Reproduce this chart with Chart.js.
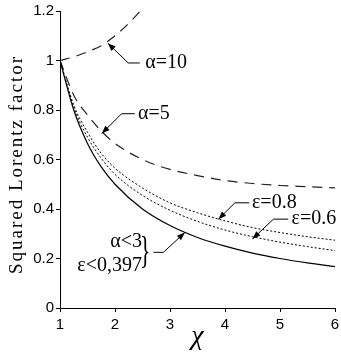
<!DOCTYPE html>
<html><head><meta charset="utf-8">
<script src="https://cdn.jsdelivr.net/npm/chart.js@4"></script>
<style>html,body{margin:0;padding:0;background:#fff}</style>
</head><body><canvas id="c" width="341" height="353"></canvas>
<script>
const xValues = [1,1.25,1.5,1.75,2,2.5,3,3.5,4,4.5,5,5.5,6];
const baseCurve = [1,0.8,0.665,0.57,0.5,0.4,0.333,0.285,0.25,0.222,0.2,0.182,0.167];
const eps06 = [1,0.81,0.69,0.605,0.54,0.455,0.395,0.35,0.315,0.288,0.266,0.248,0.232];
const eps08 = [1,0.82,0.71,0.625,0.565,0.485,0.425,0.385,0.352,0.325,0.305,0.288,0.274];
const alpha5 = [1,0.86,0.78,0.715,0.665,0.6,0.56,0.535,0.515,0.503,0.495,0.49,0.485];
const alpha10X = [1,1.25,1.5,1.75,2,2.25,2.5];
const alpha10 = [1,1.015,1.035,1.06,1.1,1.15,1.21];
const xTickLabels = ['1','2','3','4','5','6'];
const yTickLabels = ['0','0.2','0.4','0.6','0.8','1','1.2'];
const yTitle = 'Squared Lorentz factor';
const xTitle = 'χ';

const pts = (xs, ys) => xs.map((x, i) => ({x, y: ys[i]}));

const callouts = [
  {text:'α=10', tip:[1.87,1.07], elbow:[2.24,0.99], end:[2.45,0.99], textAt:[2.55,0.99]},
  {text:'α=5', tip:[1.76,0.705], elbow:[2.12,0.785], end:[2.36,0.785], textAt:[2.42,0.785]},
  {text:'ε=0.8', tip:[3.88,0.359], elbow:[4.18,0.425], end:[4.44,0.425], textAt:[4.49,0.425]},
  {text:'ε=0.6', tip:[4.50,0.279], elbow:[4.88,0.359], end:[5.15,0.359], textAt:[5.21,0.359]},
  {text:null, tip:[3.27,0.305], elbow:[2.88,0.225], end:[2.70,0.225]}
];
const groupLines = [
  {text:'α<3', at:[2.49,0.269]},
  {text:'ε<0,397', at:[2.49,0.169]}
];
const braceAt = [2.55,0.222];

const annot = {
  id:'annot',
  afterDatasetsDraw(chart){
    const ctx = chart.ctx, xs = chart.scales.x, ys = chart.scales.y;
    const P = p => [xs.getPixelForValue(p[0]), ys.getPixelForValue(p[1])];
    ctx.save();
    ctx.strokeStyle = '#000'; ctx.fillStyle = '#000'; ctx.lineWidth = 1;
    ctx.font = '20px "Liberation Serif"';
    ctx.textBaseline = 'middle';
    callouts.forEach(c => {
      const t = P(c.tip), e = P(c.elbow), n = P(c.end);
      ctx.beginPath(); ctx.moveTo(n[0], n[1]); ctx.lineTo(e[0], e[1]); ctx.lineTo(t[0], t[1]); ctx.stroke();
      const ang = Math.atan2(t[1]-e[1], t[0]-e[0]);
      const L = 8, W = 3;
      ctx.beginPath();
      ctx.moveTo(t[0], t[1]);
      ctx.lineTo(t[0]-L*Math.cos(ang)+W*Math.sin(ang), t[1]-L*Math.sin(ang)-W*Math.cos(ang));
      ctx.lineTo(t[0]-L*Math.cos(ang)-W*Math.sin(ang), t[1]-L*Math.sin(ang)+W*Math.cos(ang));
      ctx.closePath(); ctx.fill();
      if (c.text) { const a = P(c.textAt); ctx.textAlign = 'left'; ctx.fillText(c.text, a[0], a[1]); }
    });
    ctx.textAlign = 'right';
    groupLines.forEach(g => { const a = P(g.at); ctx.fillText(g.text, a[0], a[1]); });
    const b = P(braceAt);
    ctx.save();
    ctx.translate(b[0], b[1]); ctx.scale(0.9, 1.55);
    ctx.textAlign = 'center'; ctx.font = '24px "Liberation Serif"';
    ctx.fillText('}', 0, 0);
    ctx.restore();
    // y-axis title (letter-spaced)
    const cy = (ys.top + ys.bottom) / 2 + 5;
    ctx.translate(17, cy); ctx.rotate(-Math.PI/2);
    ctx.font = '19px "Liberation Serif"';
    if ('letterSpacing' in ctx) ctx.letterSpacing = '2px';
    ctx.textAlign = 'center'; ctx.textBaseline = 'middle';
    ctx.fillText(yTitle, 0, 0);
    ctx.restore();
  }
};

new Chart(document.getElementById('c'), {
  type:'scatter',
  data:{datasets:[
    {data:pts(xValues, baseCurve), borderColor:'#000', borderWidth:1.2},
    {data:pts(xValues, eps06), borderColor:'#000', borderWidth:1, borderDash:[2,2]},
    {data:pts(xValues, eps08), borderColor:'#000', borderWidth:1, borderDash:[2,2]},
    {data:pts(xValues, alpha5), borderColor:'#222', borderWidth:1.2, borderDash:[10,7]},
    {data:pts(alpha10X, alpha10), borderColor:'#222', borderWidth:1.2, borderDash:[10,7]}
  ].map(d => Object.assign(d, {showLine:true, pointRadius:0, cubicInterpolationMode:'monotone', fill:false}))},
  options:{
    responsive:false, animation:false, devicePixelRatio:1,
    layout:{padding:{top:11, right:6, left:0, bottom:0}},
    plugins:{legend:{display:false}, tooltip:{enabled:false}},
    scales:{
      x:{type:'linear', min:1, max:6,
        afterFit(s){ s.height = 45; s.paddingLeft = 0; s.paddingRight = 0; },
        ticks:{stepSize:1, color:'#000', font:{family:'"Liberation Sans"', size:15}, padding:4,
          callback:(v,i)=>xTickLabels[i]},
        grid:{drawOnChartArea:false, drawTicks:true, tickLength:4, color:'#000'},
        border:{display:true, color:'#000', width:1},
        title:{display:true, text:xTitle, color:'#000', font:{family:'"Liberation Serif"', size:28, style:'italic'}, padding:{top:4, bottom:0}}
      },
      y:{type:'linear', min:0, max:1.2,
        afterFit(s){ s.width = 60; s.paddingTop = 0; s.paddingBottom = 0; },
        ticks:{stepSize:0.2, color:'#000', font:{family:'"Liberation Sans"', size:15}, padding:2,
          callback:(v,i)=>yTickLabels[i]},
        grid:{drawOnChartArea:false, drawTicks:true, tickLength:4, color:'#000'},
        border:{display:true, color:'#000', width:1},
        title:{display:false}
      }
    }
  },
  plugins:[annot]
});
</script></body></html>
